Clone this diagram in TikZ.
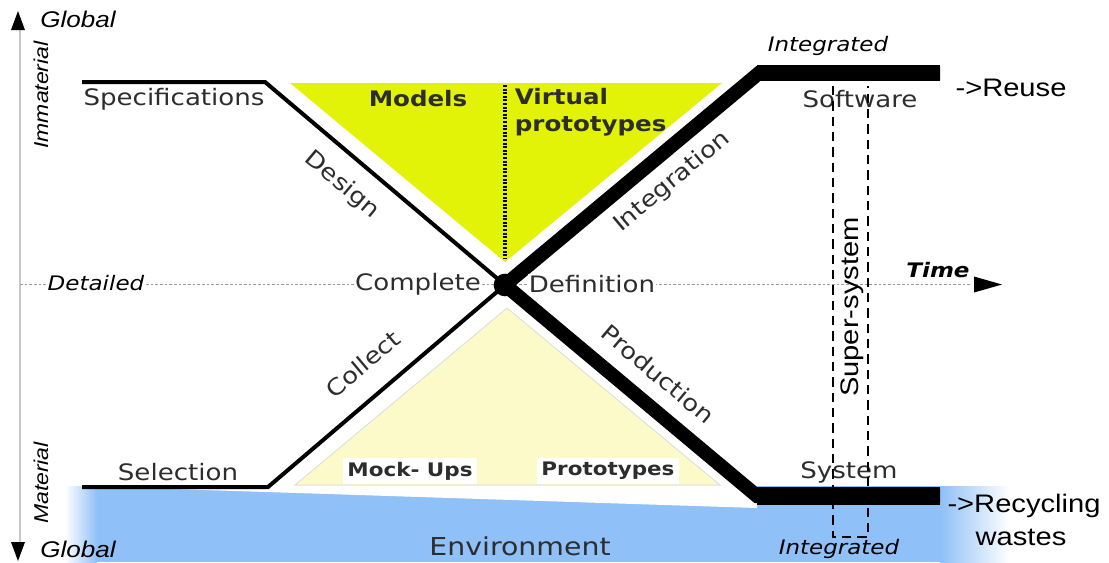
\documentclass[tikz,border=0pt]{standalone}
\usepackage{fontspec}
\setmainfont{DejaVu Sans}[FakeStretch=1.15]
\newfontfamily\arialfont{Liberation Sans}[FakeStretch=1.15]

\definecolor{envblue}{RGB}{143,192,247}
\definecolor{modelyellow}{RGB}{226,243,8}
\definecolor{mockyellow}{RGB}{253,250,202}
\definecolor{axisgray}{RGB}{200,200,200}
\definecolor{lbltext}{RGB}{45,45,45}

\tikzset{every picture/.style={line width=0.75pt}}
\tikzset{
  lbl/.style={text=lbltext, inner sep=1pt, font=\fontsize{17}{19}\selectfont},
  boldlbl/.style={text=lbltext, inner sep=1pt, font=\fontsize{16}{20}\selectfont\bfseries},
  ital/.style={inner sep=1pt, font=\fontsize{15}{17}\selectfont\itshape},
  axislbl/.style={inner sep=1pt, font=\arialfont\fontsize{15}{17}\selectfont\itshape},
  arial/.style={inner sep=1pt, font=\arialfont\fontsize{19}{21}\selectfont},
  thinpath/.style={line width=3pt},
  thickpath/.style={line width=10.5pt},
}

\begin{document}
\begin{tikzpicture}[x=0.75pt,y=0.75pt,yscale=-1,xscale=1]
\path (0,0) rectangle (1109,562);

%Shape: Environment band
\shade[left color=white,right color=envblue] (65,486) rectangle (97,562);
\fill[envblue] (97,486) rectangle (940,562);
\shade[left color=envblue,right color=white] (940,486) rectangle (1010,562);
\fill[white] (82,486) -- (757,486) -- (757,508) -- cycle;

%Shape: Triangle
\fill[modelyellow] (290,83) -- (722,83) -- (505,262) -- cycle;
\draw[line width=3pt, dash pattern=on 1.5pt off 1.2pt] (505,85) -- (505,258);
%Shape: Triangle
\filldraw[fill=mockyellow, draw=black!12] (295,485) -- (720,485) -- (507,308) -- cycle;

%Straight Lines (axis)
\draw[axisgray, line width=1.5pt] (20,30) -- (20,542);
\fill (11,30) -- (25,30) -- (18,11) -- cycle;
\fill (11,542) -- (25,542) -- (18,561) -- cycle;
%Straight Lines (time)
\draw[black!40, dash pattern=on 2pt off 1.5pt] (20,284) -- (972,284);
\fill (974,276.5) -- (974,292.5) -- (1002,284.5) -- cycle;

\node[circle, fill=black, minimum size=17pt, inner sep=0pt] (hub) at (505,285) {};
\coordinate (specL) at (82,82);
\coordinate (specR) at (265,82);
\coordinate (selL) at (82,487);
\coordinate (selR) at (268,487);
\coordinate (softL) at (759,73);
\coordinate (softR) at (940,73);
\coordinate (sysL) at (757,496);
\coordinate (sysR) at (940,496);

\draw[thinpath] (specL) -- (specR) -- (hub.center);
\draw[thinpath] (selL) -- (selR) -- (hub.center);
\draw[thickpath] (hub.center) -- (softL) -- (softR);
\draw[thickpath] (hub.center) -- (sysL) -- (sysR);
\fill (757,65) rectangle (940,81);
\fill (757,487) rectangle (940,505);

% Text Node
\node[axislbl, font=\arialfont\fontsize{17}{19}\selectfont\itshape] (globaltop) at (78,19) {Global};
% Text Node
\node[axislbl, font=\arialfont\fontsize{17}{19}\selectfont\itshape] (globalbot) at (78,549) {Global};
% Text Node
\node[axislbl, rotate=90] (immaterial) at (41,95) {Immaterial};
% Text Node
\node[axislbl, rotate=90] (material) at (41,483) {Material};
% Text Node
\node[lbl] (spec) at (174,99) {Specifications};
% Text Node
\node[boldlbl] (models) at (418,99) {Models};
% Text Node
\node[boldlbl, anchor=west, align=left] (virtproto) at (513,112) {Virtual\\prototypes};
% Text Node
\node[ital] (integtop) at (828,46) {Integrated};
% Text Node
\node[lbl] (software) at (860,99) {Software};
% Text Node
\node[lbl, rotate=-40] (design) at (342,185) {Design};
% Text Node
\node[lbl, rotate=40] (integration) at (672,182) {Integration};
% Text Node
\node[ital, fill=white] (detailed) at (96,283) {Detailed};
% Text Node
\node[lbl, fill=white] (complete) at (418,284) {Complete};
% Text Node
\node[lbl, fill=white] (definition) at (592,284) {Definition};
% Text Node
\node[ital, font=\fontsize{15}{17}\selectfont\bfseries\itshape] (time) at (938,270) {Time};
% Text Node
\node[lbl, rotate=40] (collect) at (363,364) {Collect};
% Text Node
\node[lbl, rotate=-40] (production) at (658,374) {Production};
% Text Node
\node[lbl] (selection) at (178,472) {Selection};
% Text Node
\node[boldlbl, font=\fontsize{14}{16}\selectfont\bfseries, fill=white, inner sep=3pt] (mockups) at (410,471) {Mock- Ups};
% Text Node
\node[boldlbl, font=\fontsize{14}{16}\selectfont\bfseries, fill=white, inner sep=3pt] (protos) at (608,471) {Prototypes};
% Text Node
\node[lbl] (system) at (849,472) {System};
% Text Node
\node[lbl, font=\fontsize{18.5}{20}\selectfont] (environment) at (520,546) {Environment};
% Text Node
\node[ital] (integbot) at (839,549) {Integrated};
% Text Node
\node[arial] (reuse) at (1011,88) {->Reuse};
% Text Node
\node[arial] (recycling) at (1024,506) {->Recycling};
% Text Node
\node[arial] (wastes) at (1021,537) {wastes};
% Text Node
\node[arial, rotate=90] (supersys) at (852,307) {Super-system};

%Shape: Super-system box
\draw[line width=1.2pt, dash pattern=on 7pt off 4.5pt] (833,86) -- (833,537) -- (868,537) -- (868,86);

\end{tikzpicture}
\end{document}
